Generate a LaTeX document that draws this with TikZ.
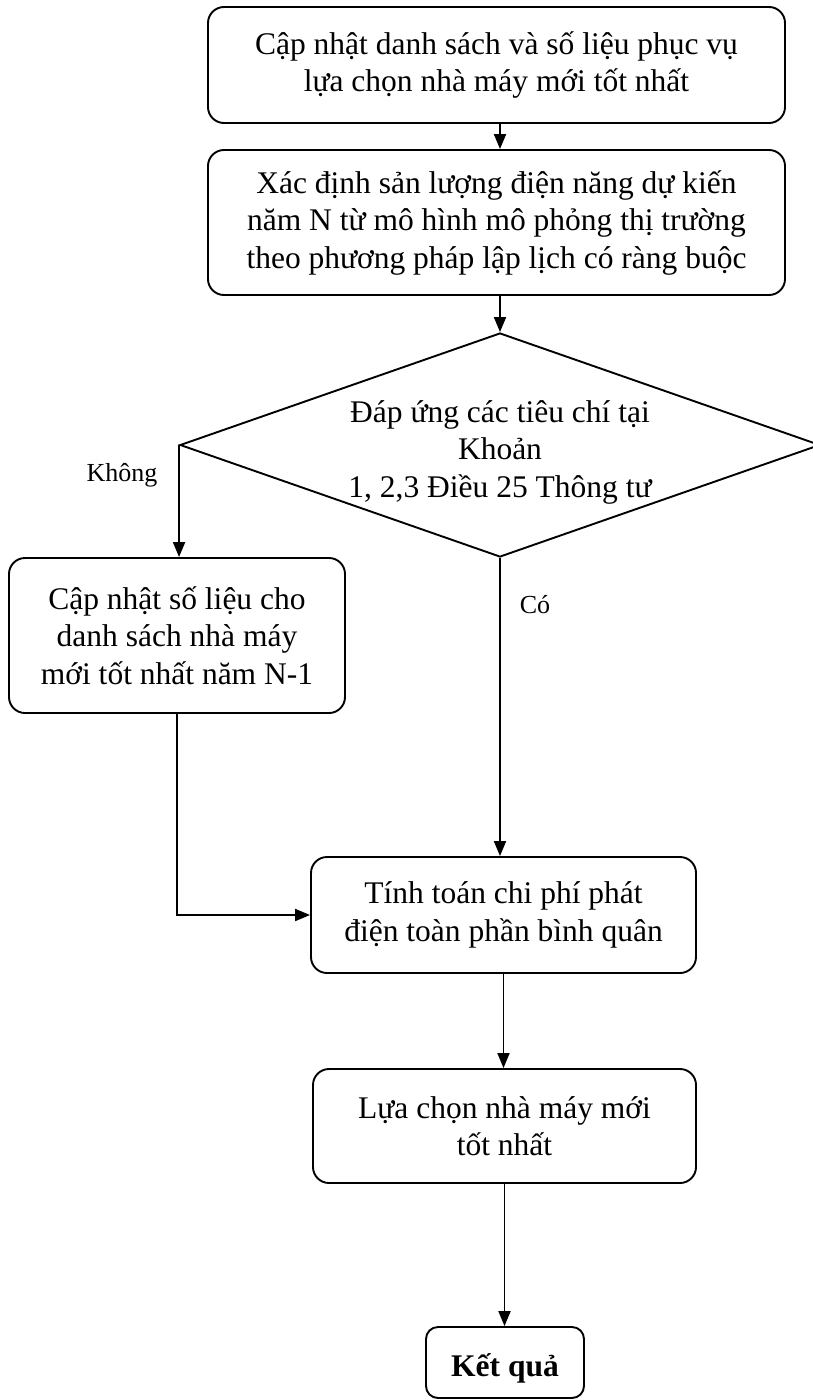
\documentclass[tikz,border=0pt]{standalone}
\usepackage{fontspec}
\setmainfont{Liberation Serif}
\usetikzlibrary{shapes.geometric,arrows.meta}
\begin{document}
\begin{tikzpicture}[x=1pt,y=-1pt,
  box/.style={draw,line width=1.9pt,rounded corners=16pt,align=center,inner sep=0pt,
    font=\fontsize{31.5}{37.5}\selectfont},
  dec/.style={draw,line width=1.9pt,diamond,aspect=2.857,inner sep=0pt,
    minimum width=640pt,minimum height=224pt},
  txt/.style={align=center,inner sep=0pt,font=\fontsize{31.5}{37.5}\selectfont},
  arr/.style={line width=1.9pt,-{Triangle[length=15pt,width=12pt]}},
  lab/.style={font=\fontsize{26}{30}\selectfont}]
\fill[white] (0,0) rectangle (813,1400);
\useasboundingbox (0,0) rectangle (813,1400);
\node[box,minimum width=577pt,minimum height=116pt] (b1) at (496.5,65)
  {Cập nhật danh sách và số liệu phục vụ\\lựa chọn nhà máy mới tốt nhất};
\node[box,minimum width=577pt,minimum height=145pt] (b2) at (496.5,222.5)
  {Xác định sản lượng điện năng dự kiến\\năm N từ mô hình mô phỏng thị trường\\theo phương pháp lập lịch có ràng buộc};
\node[dec] (dia) at (500,445) {};
\node[txt] (diat) at (500,452)
  {Đáp ứng các tiêu chí tại\\Khoản\\1, 2,3 Điều 25 Thông tư};
\node[box,minimum width=336pt,minimum height=155pt] (b3) at (177,635.5)
  {Cập nhật số liệu cho\\danh sách nhà máy\\mới tốt nhất năm N-1};
\node[box,minimum width=385pt,minimum height=116pt] (b4) at (503.5,915)
  {Tính toán chi phí phát\\điện toàn phần bình quân};
\node[box,minimum width=383pt,minimum height=114pt] (b5) at (504.5,1126)
  {Lựa chọn nhà máy mới\\tốt nhất};
\node[box,minimum width=158pt,minimum height=71pt,rounded corners=12pt] (b6) at (505,1362.5) {};
\node[txt] (b6t) at (505,1368) {\textbf{Kết quả}};
\node[lab] (no) at (122,475) {Không};
\node[lab] (yes) at (535,605) {Có};
\draw[arr] (b1.south -| 500,0) -- (b2.north -| 500,0);
\draw[arr] (b2.south -| dia.north) -- (dia.north);
\draw[arr] (dia.west) -- (dia.west |- b3.north);
\draw[arr] (dia.south) -- (dia.south |- b4.north);
\draw[arr] (b3.south) |- (b4.west);
\draw[arr] (b4.south) -- (b4.south |- b5.north);
\draw[arr] (b5.south) -- (b5.south |- b6.north);
\end{tikzpicture}
\end{document}
